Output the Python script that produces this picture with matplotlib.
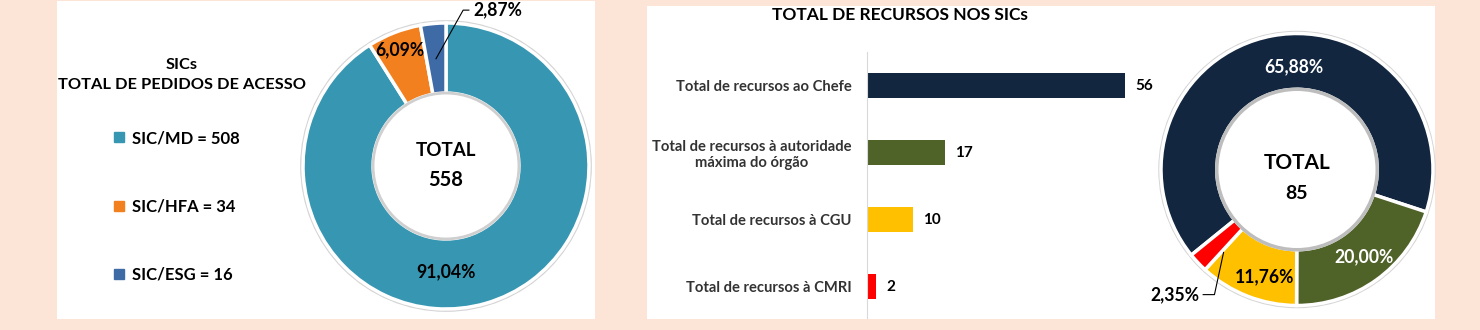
import matplotlib
matplotlib.use("Agg")
import matplotlib.pyplot as plt
from matplotlib.patches import Rectangle, Circle
from matplotlib.lines import Line2D

plt.rcParams['font.family'] = ['Lato', 'DejaVu Sans']

# --- data ---
sic_names = ["SIC/MD", "SIC/HFA", "SIC/ESG"]
sic_values = [508, 34, 16]
sic_colors = ["#3797B2", "#F2801F", "#3E6BA6"]

rec_names = ["Total de recursos ao Chefe",
             "Total de recursos à autoridade\nmáxima do órgão",
             "Total de recursos à CGU",
             "Total de recursos à CMRI"]
rec_values = [56, 17, 10, 2]
rec_colors = ["#12263F", "#4F6228", "#FFC000", "#FF0000"]

W, H = 1480, 330
BG = "#FCE4D6"


def px_rect(x0, y0, w, h):
    # pixel box (top-left origin) -> figure fraction
    return [x0 / W, 1 - (y0 + h) / H, w / W, h / H]


def pct(v, tot):
    return "{:.2f}%".format(100.0 * v / tot).replace(".", ",")


fig = plt.figure(figsize=(W / 100, H / 100), dpi=100, facecolor=BG)

# white panels
for x0, y0, x1, y1 in [(57, 1, 595, 319), (647, 6, 1435, 319)]:
    fig.add_artist(Rectangle((x0 / W, 1 - y1 / H), (x1 - x0) / W, (y1 - y0) / H,
                             transform=fig.transFigure, facecolor="white",
                             edgecolor="none", zorder=-5))

# ---------------- left donut ----------------
cx, cy, R = 446, 166, 143
half = 165
ax1 = fig.add_axes(px_rect(cx - half, cy - half, 2 * half, 2 * half))
ax1.patch.set_visible(False)
ax1.add_patch(Circle((0, 0), 1.02, facecolor="#d4d4d4", edgecolor="none", zorder=0))
wedges1, _ = ax1.pie(sic_values, colors=sic_colors, startangle=90, counterclock=False,
                     radius=1, wedgeprops=dict(width=0.49, edgecolor="white", linewidth=2.5))
ax1.add_patch(Circle((0, 0), 0.51, facecolor="white", edgecolor="#cfcfcf", linewidth=2, zorder=3))
lim = half / R
ax1.set_xlim(-lim, lim)
ax1.set_ylim(-lim, lim)

tot1 = sum(sic_values)
ax1.text(0, 0.11, "TOTAL", ha="center", va="center", fontsize=13.5, fontweight="bold", zorder=5)
ax1.text(0, -0.1, str(tot1), ha="center", va="center", fontsize=14.5, fontweight="bold", zorder=5)
ax1.text(0.0, -0.74, pct(sic_values[0], tot1), ha="center", va="center",
         fontsize=12.7, fontweight="bold", zorder=5)
ax1.text(-0.32, 0.81, pct(sic_values[1], tot1), ha="center", va="center",
         fontsize=12.7, fontweight="bold", zorder=5)
ax1.plot([-0.07, 0.12, 0.16], [0.75, 1.09, 1.09], color="black", lw=0.8, zorder=5)
ax1.text(0.19, 1.09, pct(sic_values[2], tot1), ha="left", va="center",
         fontsize=12.7, fontweight="bold", zorder=5)

fig.text(182 / W, 1 - 75 / H, "SICs\nTOTAL DE PEDIDOS DE ACESSO", ha="center", va="center",
         fontsize=11.8, fontweight="bold", linespacing=1.6)

handles = [Line2D([], [], marker="s", ls="none", markersize=6.5, color=c) for c in sic_colors]
labels = ["{} = {}".format(n, v) for n, v in zip(sic_names, sic_values)]
fig.legend(handles, labels, loc="upper left", bbox_to_anchor=(114 / W, 1 - 130 / H),
           frameon=False, prop=dict(size=12, weight="bold"), labelspacing=3.15,
           handlelength=0.6, handletextpad=0.45, borderpad=0, borderaxespad=0)

# ---------------- bar chart ----------------
scale = 4.61  # px per unit
bx0, by0, bw, bh = 867, 52, 300, 266
ax2 = fig.add_axes(px_rect(bx0, by0, bw, bh))
ax2.patch.set_visible(False)
ypos = list(range(len(rec_values)))
bars = ax2.barh(ypos, rec_values, height=0.36, color=rec_colors)
ax2.set_xlim(0, bw / scale)
ax2.set_ylim(3.47, -0.5)
ax2.set_yticks(ypos, labels=rec_names)
for lab in ax2.get_yticklabels():
    lab.set_multialignment("center")
    lab.set_fontweight("bold")
    lab.set_color("#333333")
    lab.set_fontsize(10.6)
ax2.tick_params(axis="y", length=0, pad=11)
ax2.set_xticks([])
for s in ["top", "right", "bottom"]:
    ax2.spines[s].set_visible(False)
ax2.spines["left"].set_color("#d9d9d9")
ax2.bar_label(bars, padding=7, fontsize=11, fontweight="bold")

fig.text(900 / W, 1 - 15 / H, "TOTAL DE RECURSOS NOS SICs", ha="center", va="center",
         fontsize=12.5, fontweight="bold")

# ---------------- right donut ----------------
cx, cy, R = 1297, 169.5, 136
half = 150
ax3 = fig.add_axes(px_rect(cx - half, cy - half, 2 * half, 2 * half))
ax3.patch.set_visible(False)
ax3.add_patch(Circle((0, 0), 1.02, facecolor="#d4d4d4", edgecolor="none", zorder=0))
wedges3, _ = ax3.pie(rec_values, colors=rec_colors, startangle=219, counterclock=False,
                     radius=1, wedgeprops=dict(width=0.41, edgecolor="white", linewidth=2.5))
ax3.add_patch(Circle((0, 0), 0.59, facecolor="white", edgecolor="#bdbdbd", linewidth=2.5, zorder=3))
lim = half / R
ax3.set_xlim(-lim, lim)
ax3.set_ylim(-lim, lim)

tot3 = sum(rec_values)
ax3.text(0, 0.05, "TOTAL", ha="center", va="center", fontsize=15, fontweight="bold", zorder=5)
ax3.text(0, -0.18, str(tot3), ha="center", va="center", fontsize=14, fontweight="bold", zorder=5)
ax3.text(-0.02, 0.755, pct(rec_values[0], tot3), ha="center", va="center",
         fontsize=12.7, fontweight="bold", color="white", zorder=5)
ax3.text(0.49, -0.64, pct(rec_values[1], tot3), ha="center", va="center",
         fontsize=12.7, fontweight="bold", color="white", zorder=5)
ax3.text(-0.24, -0.79, pct(rec_values[2], tot3), ha="center", va="center",
         fontsize=12.7, fontweight="bold", zorder=5)
ax3.plot([-0.54, -0.607, -0.69], [-0.61, -0.92, -0.92], color="black", lw=0.8, zorder=5)
ax3.text(-0.72, -0.92, pct(rec_values[3], tot3), ha="right", va="center",
         fontsize=12.7, fontweight="bold", zorder=5)

fig.savefig("out.png", dpi=100, facecolor=BG)
